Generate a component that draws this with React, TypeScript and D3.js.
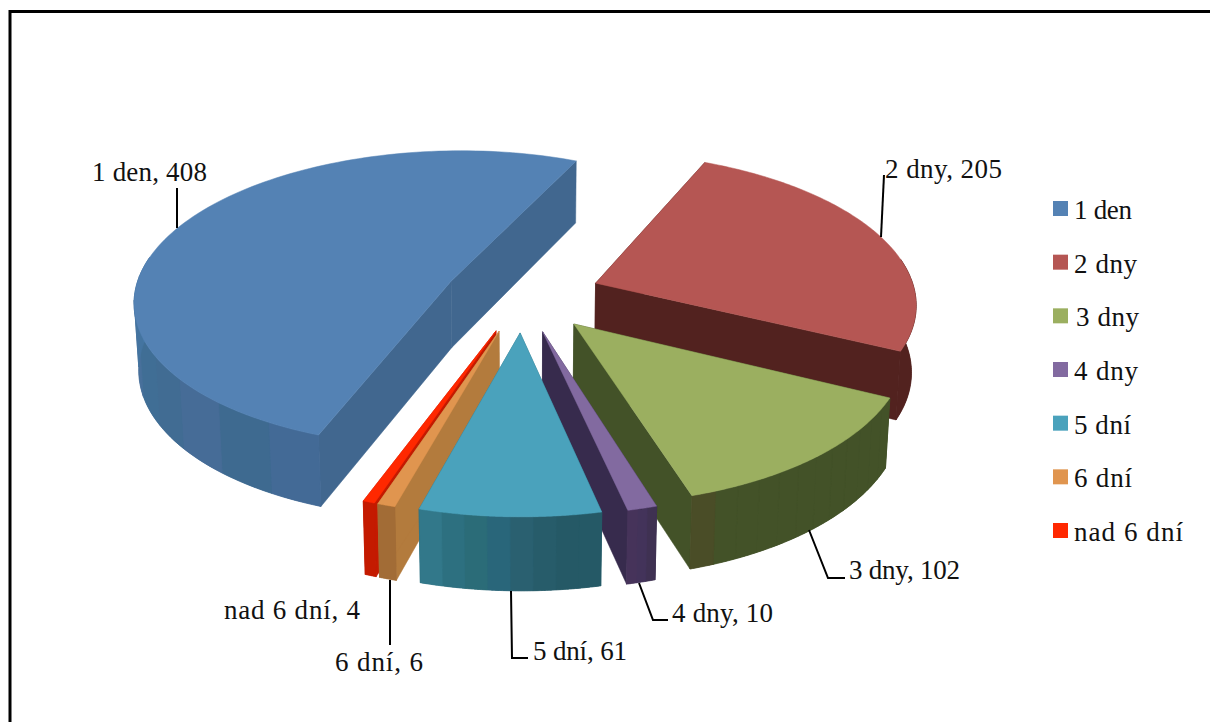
import React from "react";
import * as d3 from "d3";

const categories = ["1 den", "2 dny", "3 dny", "4 dny", "5 dní", "6 dní", "nad 6 dní"];
const values = [408, 205, 102, 10, 61, 6, 4];
const topColors = ["#5482B4", "#B55653", "#9BAF60", "#826AA0", "#4AA2BC", "#E0954F", "#FF2800"];
const radialColors = ["#41678F", "#52221F", "#435228", "#372B4D", "#2A6A79", "#B37B3D", "#C41A00"];
// shading bands of each rim, in the order of the pie's rotation
const wallBands: string[][] = [
  ["#436A96", "#3E6A90", "#466C97", "#416C93", "#406E95", "#48709B", "#4474A0", "#4678A6", "#4678A6", "#4678A6", "#4678A6", "#4678A6", "#4678A6", "#4678A6", "#4678A6", "#4678A6", "#4678A6", "#4678A6"],
  ["#52221F"],
  ["#435228", "#435228", "#435228", "#435228", "#435228", "#435228", "#435228", "#435228", "#435228", "#435228", "#435228", "#4A4D27"],
  ["#3F3152", "#43335A", "#46335A"],
  ["#255966", "#255966", "#275C6A", "#2A6070", "#29667A", "#2B6C78", "#2D7080", "#32788A"],
  ["#A26C36"],
  ["#C41A00"],
];
const labelTexts = ["1 den, 408", "2 dny, 205", "3 dny, 102", "4 dny, 10", "5 dní, 61", "6 dní, 6", "nad 6 dní, 4"];

// layout of the texts and the leader lines
const labelPos: [number, number][] = [[92, 181], [885, 178], [849, 579], [672, 622], [533, 660], [335, 671], [224, 619]];
const labelWidths = [115, 117, 111, 101, 94, 88, 136];
const legendWidths = [58, 63, 63, 64, 57, 58, 109];
const leaders: [number, number][][] = [
  [[177, 188], [177, 228]],
  [[884, 175], [881, 237]],
  [[809, 530], [828, 578], [845, 578]],
  [[639, 583], [653, 620], [668, 620]],
  [[511, 591], [512, 658], [528, 658]],
  [[390, 580], [390, 645]],
  [],
];
const legendX = 1053;
const legendY = d3.scaleLinear().domain([0, 6]).range([201, 523]);

// projection of the tilted pie
const CX = 524, CY = 292, RX = 318, RY = 149, K = 0.14, EXPLODE = 0.246, DEPTH = 66.6;
const APEX_DX = -1.5, APEX_DY = 3;
const START = (200 * Math.PI) / 180;
const FONT = "'Liberation Serif', serif";
const FS = 27;

type P = [number, number];
function project(X: number, Y: number, down: boolean): P {
  const w = 1 - K * Y;
  const x = CX + (RX * X) / w;
  const y = CY + (RY * Y) / w;
  if (!down) return [x, y];
  return [x - (x - CX) * 0.012, y + DEPTH * Math.pow(1 / w, 0.55)];
}
const pathOf = (pts: P[]) => "M" + pts.map((p) => `${p[0].toFixed(2)},${p[1].toFixed(2)}`).join("L") + "Z";

export default function App() {
  const arcs = d3
    .pie<number>()
    .sort(null)
    .startAngle(START)
    .endAngle(START + 2 * Math.PI)(values);

  const slices = arcs.map((a, i) => {
    const mid = (a.startAngle + a.endAngle) / 2;
    const ax = Math.sin(mid) * EXPLODE;
    const ay = -Math.cos(mid) * EXPLODE;
    const at = (t: number, down: boolean) => project(ax + Math.sin(t), ay - Math.cos(t), down);
    const n = 120;
    const ts = d3.range(n + 1).map((j) => a.startAngle + ((a.endAngle - a.startAngle) * j) / n);
    const nudge = (p: P): P => [p[0] + APEX_DX, p[1] + APEX_DY];
    const apexT = nudge(project(ax, ay, false));
    const apexB = nudge(project(ax, ay, true));
    const top = [apexT, ...ts.map((t) => at(t, false))];
    const radial = [
      [apexT, at(a.startAngle, false), at(a.startAngle, true), apexB],
      [apexT, at(a.endAngle, false), at(a.endAngle, true), apexB],
    ] as P[][];
    const bands = wallBands[i];
    // only the part of the rim that faces the viewer is drawn
    const facing = (t: number) => Math.cos(t) < 0.15;
    const band = (seg: number[]) => {
      const vis = seg.filter(facing);
      if (vis.length < 2) return "";
      return pathOf([...vis.map((t) => at(t, false)), ...vis.slice().reverse().map((t) => at(t, true))]);
    };
    const facets = bands.map((c, f) => ({
      d: band(ts.slice(Math.floor((f * n) / bands.length), Math.floor(((f + 1) * n) / bands.length) + 1)),
      c,
    }));
    return { top, radial, facets, base: band(ts), baseColor: bands[0] };
  });

  // back to front: the slices nearest the viewer are painted last
  const order = [0, 1, 2, 3, 6, 5, 4];

  return (
    <svg width={1210} height={722} style={{ position: "absolute", left: 0, top: 0, background: "#fff" }}>
      <path d="M10,722V11.5H1210" fill="none" stroke="#000" strokeWidth={3} />
      {order.map((idx) => {
        const s = slices[idx];
        return (
          <g key={idx}>
            {s.radial.map((r, j) => (
              <path key={j} d={pathOf(r)} fill={radialColors[idx]} stroke={radialColors[idx]} strokeWidth={0.5} />
            ))}
            <path d={s.base} fill={s.baseColor} />
            {s.facets.map((f, j) =>
              f.d ? <path key={j} d={f.d} fill={f.c} stroke={f.c} strokeWidth={0.8} /> : null
            )}
            <path d={pathOf(s.top)} fill={topColors[idx]} stroke={topColors[idx]} strokeWidth={0.5} />
          </g>
        );
      })}
      {leaders.map((l, i) =>
        l.length ? <path key={i} d={d3.line()(l) as string} fill="none" stroke="#000" strokeWidth={2} /> : null
      )}
      <g fontFamily={FONT} fontSize={FS} fill="#111">
        {labelTexts.map((t, i) => (
          <text key={t} x={labelPos[i][0]} y={labelPos[i][1]} textLength={labelWidths[i]} lengthAdjust="spacing">{t}</text>
        ))}
        {categories.map((c, i) => (
          <text key={c} x={legendX + (i === 2 ? 23 : 21)} y={legendY(i) + 18} textLength={legendWidths[i]} lengthAdjust="spacing">{c}</text>
        ))}
      </g>
      {categories.map((c, i) => (
        <rect key={c} x={legendX} y={legendY(i)} width={15} height={15} fill={topColors[i]} />
      ))}
    </svg>
  );
}
